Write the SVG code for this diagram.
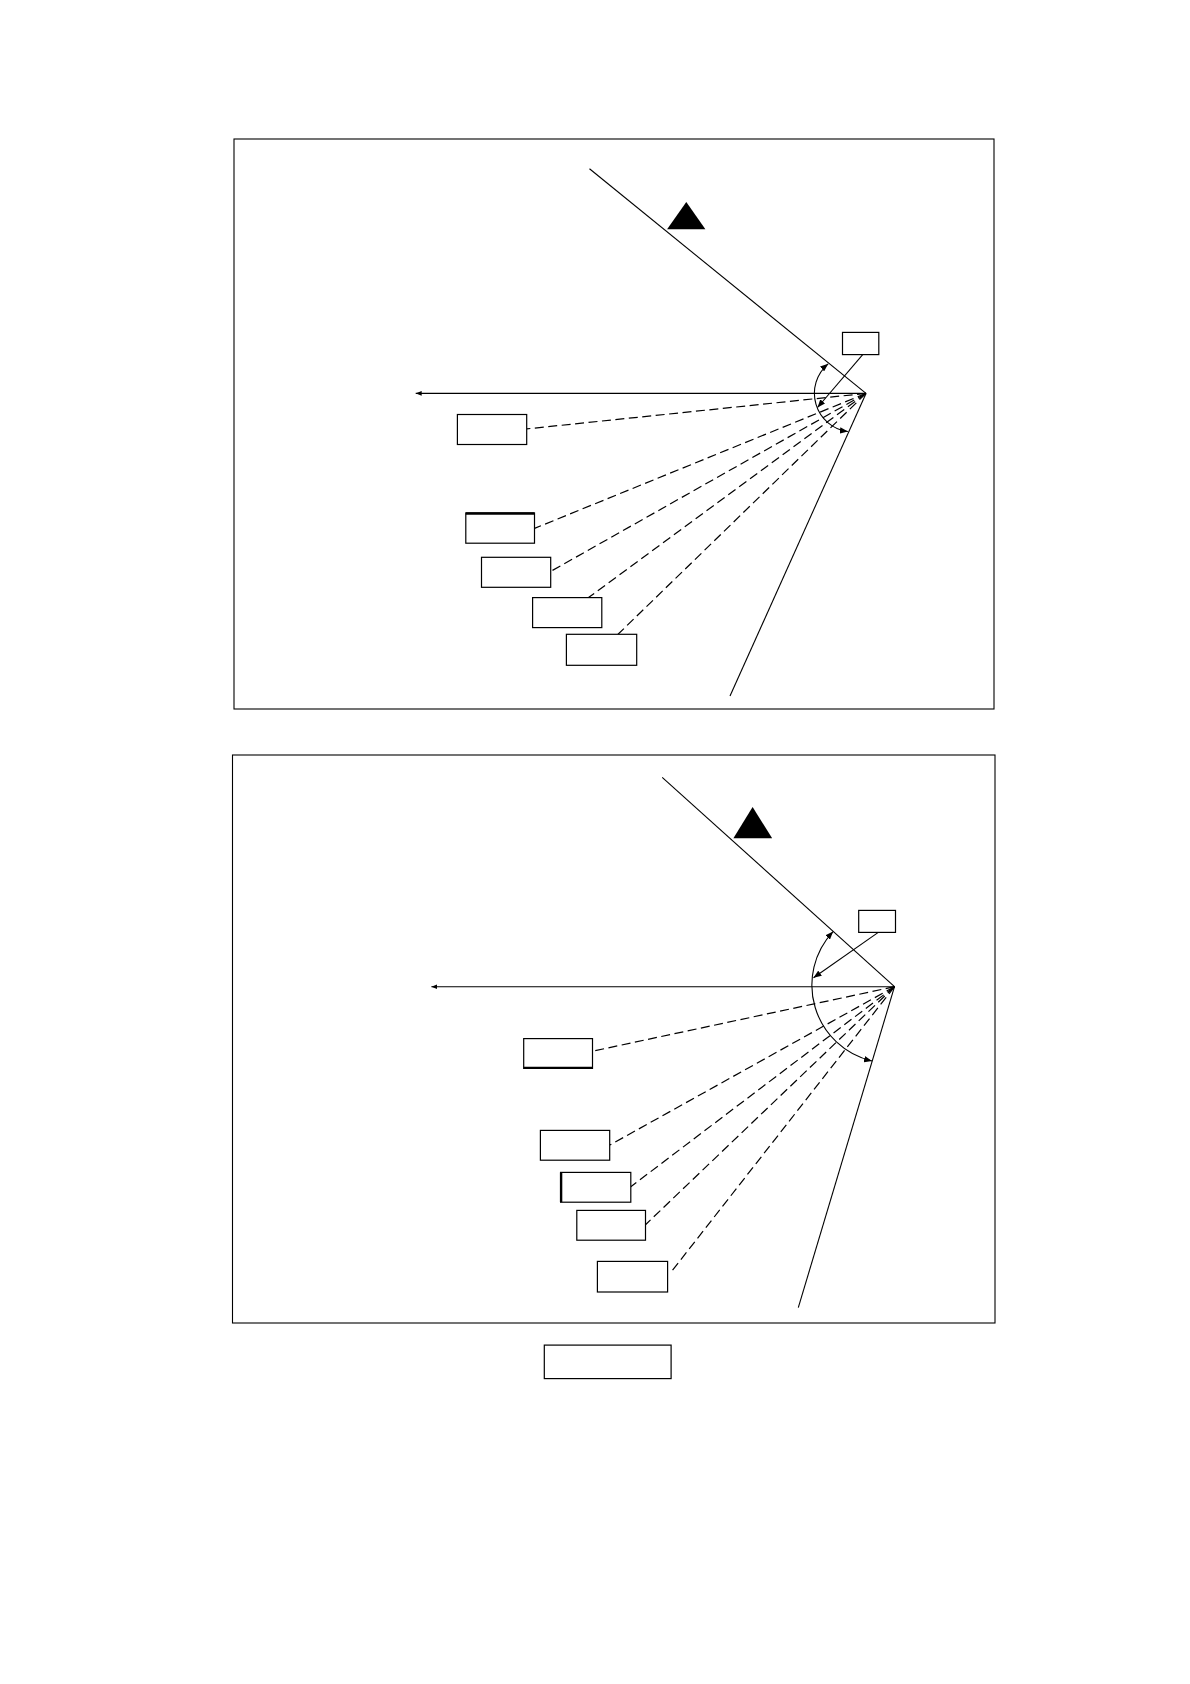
<svg xmlns="http://www.w3.org/2000/svg" width="1190" height="1684" viewBox="0 0 1190 1684">
<style>
.frame{fill:none;stroke:#000;stroke-width:1.1}
.ln{fill:none;stroke:#000;stroke-width:1.1}
.dash{fill:none;stroke:#000;stroke-width:1.2;stroke-dasharray:9 4.5}
.box{fill:#fff;stroke:#000;stroke-width:1.2}
.thick{stroke:#000;stroke-width:2.4}
</style>
<defs>
<marker id="ah" viewBox="0 0 10 8" refX="10" refY="4" markerWidth="8" markerHeight="6.4" markerUnits="userSpaceOnUse" orient="auto-start-reverse">
<path d="M0,0 L10,4 L0,8 z" fill="#000"/>
</marker>
<marker id="ahs" viewBox="0 0 10 8" refX="10" refY="4" markerWidth="6" markerHeight="4.8" markerUnits="userSpaceOnUse" orient="auto">
<path d="M0,0 L10,4 L0,8 z" fill="#000"/>
</marker>
</defs>
<rect width="1190" height="1684" fill="#fff"/>

<g id="panel-top">
<rect class="frame" x="234" y="139" width="760" height="570"/>
<line class="ln" x1="589.5" y1="168.8" x2="866" y2="393.4"/>
<line class="ln" x1="866" y1="393.4" x2="730" y2="696"/>
<polygon points="686.3,202.1 667.1,229.2 705.4,229.2" fill="#000"/>
</g>
<g id="panel-bottom">
<rect class="frame" x="232.5" y="755" width="762.5" height="568"/>
<line class="ln" x1="662.2" y1="777.3" x2="894.5" y2="986.7"/>
<line class="ln" x1="894.5" y1="986.7" x2="798.3" y2="1307.6"/>
<polygon points="752.6,807.1 733.4,838.2 772.2,838.2" fill="#000"/>
</g>

<g id="connectors">
<line class="ln" x1="866" y1="393.4" x2="415.7" y2="393.4" marker-end="url(#ahs)"/>
<path class="ln" d="M828.2,363.8 A38.5,38.5 0 0 0 847.9,431.5" marker-start="url(#ah)" marker-end="url(#ah)"/>
<line class="ln" x1="862.7" y1="354.6" x2="817.5" y2="407.5" marker-end="url(#ah)"/>
<line class="dash" x1="866" y1="393.4" x2="526.7" y2="428.9"/>
<line class="dash" x1="866" y1="393.4" x2="534.5" y2="528.4"/>
<line class="dash" x1="866" y1="393.4" x2="550.7" y2="571.4"/>
<line class="dash" x1="866" y1="393.4" x2="588.5" y2="597.6"/>
<line class="dash" x1="866" y1="393.4" x2="618" y2="634.3"/>

<line class="ln" x1="894.5" y1="986.7" x2="431.4" y2="986.7" marker-end="url(#ahs)"/>
<path class="ln" d="M833.1,931.6 A78,78 0 0 0 872,1061" marker-start="url(#ah)" marker-end="url(#ah)"/>
<line class="ln" x1="878.3" y1="932.4" x2="813.5" y2="977.8" marker-end="url(#ah)"/>
<line class="dash" x1="894.5" y1="986.7" x2="592.5" y2="1051.2"/>
<line class="dash" x1="894.5" y1="986.7" x2="609.7" y2="1145.1"/>
<line class="dash" x1="894.5" y1="986.7" x2="630.8" y2="1186.7"/>
<line class="dash" x1="894.5" y1="986.7" x2="645.5" y2="1224.7"/>
<line class="dash" x1="894.5" y1="986.7" x2="670.1" y2="1273.3"/>
</g>

<g id="t-label"><rect class="box" x="842.5" y="332.4" width="36.3" height="22.2"/></g>
<g id="t-box1"><rect class="box" x="457.4" y="414.5" width="69.3" height="30"/></g>
<g id="t-box2"><rect class="box" x="465.8" y="513" width="68.7" height="30.2"/><line class="thick" x1="465.8" y1="513.5" x2="534.5" y2="513.5"/></g>
<g id="t-box3"><rect class="box" x="481.5" y="557.3" width="69.2" height="30"/></g>
<g id="t-box4"><rect class="box" x="532.6" y="597.6" width="69.2" height="30"/></g>
<g id="t-box5"><rect class="box" x="566.4" y="634.3" width="70.3" height="31"/></g>

<g id="b-label"><rect class="box" x="858.7" y="910.4" width="36.8" height="22"/></g>
<g id="b-box1"><rect class="box" x="523.7" y="1038.6" width="68.8" height="29.8"/><line class="thick" x1="523.7" y1="1067.9" x2="592.5" y2="1067.9"/></g>
<g id="b-box2"><rect class="box" x="540.4" y="1130.4" width="69.3" height="29.8"/></g>
<g id="b-box3"><rect class="box" x="560.6" y="1172.4" width="70.2" height="29.8"/><line class="thick" x1="561.1" y1="1172.4" x2="561.1" y2="1202.2"/></g>
<g id="b-box4"><rect class="box" x="576.8" y="1210.4" width="68.7" height="29.8"/></g>
<g id="b-box5"><rect class="box" x="597.4" y="1261.4" width="70.2" height="30.6"/></g>

<g id="caption"><rect class="box" x="544.3" y="1345.1" width="126.8" height="33.5"/></g>
</svg>
